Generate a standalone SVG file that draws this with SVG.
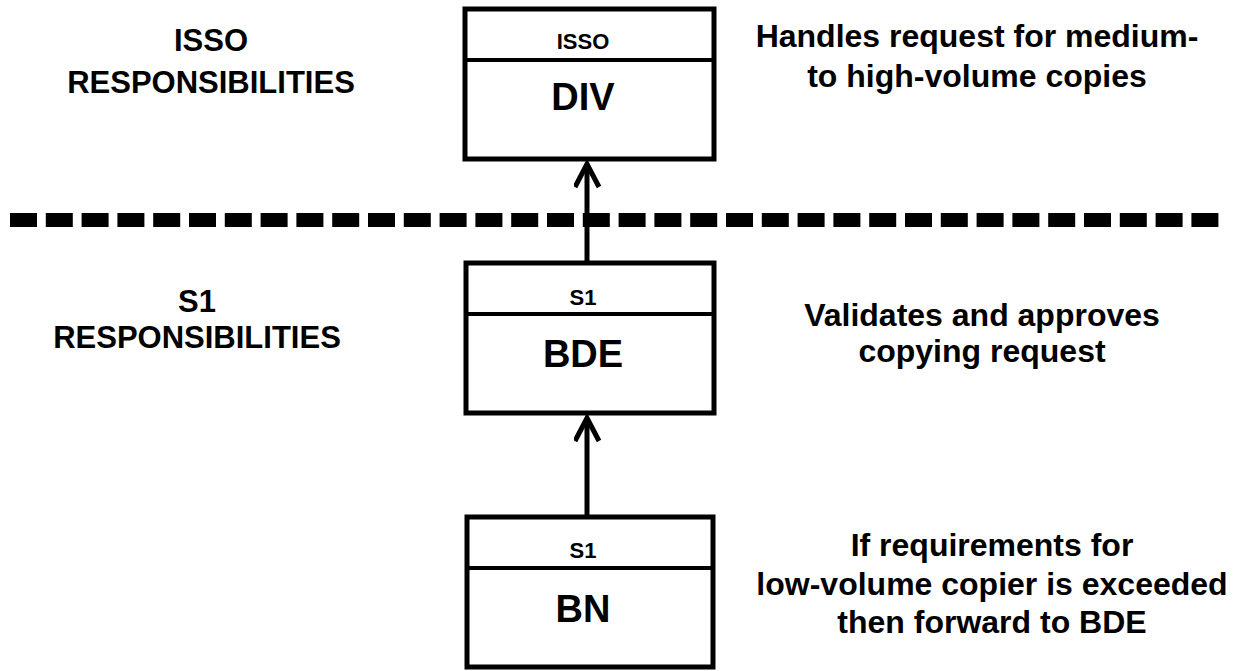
<svg xmlns="http://www.w3.org/2000/svg" width="1244" height="671" viewBox="0 0 1244 671">
<style>
text{font-family:"Liberation Sans",Arial,Helvetica,sans-serif;font-weight:bold;fill:#000;text-anchor:middle}
.box{fill:#fff;stroke:#000;stroke-width:5}
.div{stroke:#000;stroke-width:4}
.small{font-size:22px}
.big{font-size:38px}
.lbl{font-size:31px}
.desc{font-size:32px}
.conn{stroke:#000;stroke-width:5;fill:none}
</style>
<defs>
<marker id="arr" markerWidth="30" markerHeight="30" refX="25" refY="13" orient="auto" markerUnits="userSpaceOnUse">
<path d="M2,1 L25,13 L2,25" fill="none" stroke="#000" stroke-width="5"/>
</marker>
</defs>
<rect width="1244" height="671" fill="#fff"/>
<g id="boundary">
<line x1="10" y1="220" x2="1221" y2="220" stroke="#000" stroke-width="14" stroke-dasharray="27 8.8"/>
</g>
<g id="labels-left">
<text class="lbl" x="211" y="51">ISSO</text>
<text class="lbl" x="211" y="93">RESPONSIBILITIES</text>
<text class="lbl" x="197" y="312">S1</text>
<text class="lbl" x="197" y="348">RESPONSIBILITIES</text>
</g>
<g id="labels-right">
<text class="desc" x="977" y="47">Handles request for medium-</text>
<text class="desc" x="977" y="87">to high-volume copies</text>
<text class="desc" x="982" y="326">Validates and approves</text>
<text class="desc" x="982" y="362">copying request</text>
<text class="desc" x="992" y="556">If requirements for</text>
<text class="desc" x="992" y="595">low-volume copier is exceeded</text>
<text class="desc" x="992" y="633">then forward to BDE</text>
</g>
<g id="node-div">
<rect class="box" x="465" y="9" width="249" height="150"/>
<line class="div" x1="465" y1="60" x2="714" y2="60"/>
<text class="small" x="583" y="49">ISSO</text>
<text class="big" x="583" y="110">DIV</text>
</g>
<g id="node-bde">
<rect class="box" x="466" y="263" width="248" height="150"/>
<line class="div" x1="466" y1="314" x2="714" y2="314"/>
<text class="small" x="583" y="305">S1</text>
<text class="big" x="583" y="367">BDE</text>
</g>
<g id="node-bn">
<rect class="box" x="467" y="517" width="246" height="150"/>
<line class="div" x1="467" y1="568" x2="713" y2="568"/>
<text class="small" x="583" y="558">S1</text>
<text class="big" x="583" y="622">BN</text>
</g>
<g id="connectors">
<line class="conn" x1="587" y1="261" x2="587" y2="164" marker-end="url(#arr)"/>
<line class="conn" x1="587" y1="515" x2="587" y2="418" marker-end="url(#arr)"/>
</g>
</svg>
